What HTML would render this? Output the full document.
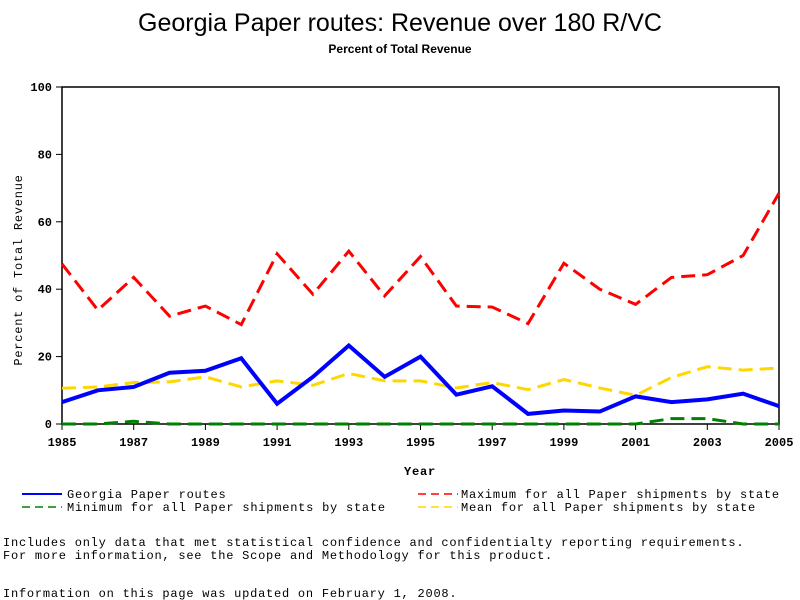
<!DOCTYPE html>
<html><head><meta charset="utf-8"><style>
body{margin:0;background:#fff;width:800px;height:600px;overflow:hidden}
svg{display:block}
text{font-family:"Liberation Mono",monospace;font-size:12px;fill:#000}
.w{letter-spacing:0.77px}
</style></head><body>
<svg id="chart" width="800" height="600">
<text x="400" y="31" text-anchor="middle" style="font-family:'Liberation Sans',sans-serif;font-size:25px">Georgia Paper routes: Revenue over 180 R/VC</text>
<text x="400" y="53" text-anchor="middle" style="font-family:'Liberation Sans',sans-serif;font-size:12px;font-weight:bold">Percent of Total Revenue</text>
<rect x="62" y="87" width="717" height="337" fill="none" stroke="#000" stroke-width="1.5"/>
<g id="axes"></g>
<g id="series"></g>
<text class="w" x="420" y="475" text-anchor="middle" font-weight="bold">Year</text>
<text class="w" transform="translate(22,270) rotate(-90)" text-anchor="middle">Percent of Total Revenue</text>
<g>
<line x1="22" y1="494" x2="62" y2="494" stroke="#00f" stroke-width="2"/>
<text class="w" x="67" y="498">Georgia Paper routes</text>
<line x1="418" y1="494" x2="458" y2="494" stroke="#f00" stroke-dasharray="8,5" stroke-width="1.5"/>
<text class="w" x="461" y="498">Maximum for all Paper shipments by state</text>
<line x1="22" y1="507" x2="62" y2="507" stroke="#008000" stroke-dasharray="8,5" stroke-width="1.5"/>
<text class="w" x="67" y="511">Minimum for all Paper shipments by state</text>
<line x1="418" y1="507" x2="458" y2="507" stroke="#ffd700" stroke-dasharray="8,5" stroke-width="1.5"/>
<text class="w" x="461" y="511">Mean for all Paper shipments by state</text>
</g>
<text class="w" x="3" y="546">Includes only data that met statistical confidence and confidentialty reporting requirements.</text>
<text class="w" x="3" y="559">For more information, see the Scope and Methodology for this product.</text>
<text class="w" x="3" y="597">Information on this page was updated on February 1, 2008.</text>
</svg>
<script>
const years=[1985,1986,1987,1988,1989,1990,1991,1992,1993,1994,1995,1996,1997,1998,1999,2000,2001,2002,2003,2004,2005];
const georgia=[6.5,10,11,15.2,15.8,19.5,6,14,23.3,14,20,8.7,11.2,3,4,3.7,8.2,6.5,7.3,9,5.3];
const maximum=[47.5,33.8,43.5,32,35,29.5,50.5,38.5,51.3,38,49.7,35,34.7,29.8,47.7,40,35.5,43.5,44.3,50,68.5];
const mean=[10.6,11,12.3,12.5,14,11,12.8,11.5,15,12.8,12.8,10.7,12.3,10.2,13.2,10.7,8.5,13.8,17,16,16.6];
const minimum=[0,0,0.8,0,0,0,0,0,0,0,0,0,0,0,0,0,0,1.6,1.6,0,0];
const yTicks=[0,20,40,60,80,100];
const xTicks=[1985,1987,1989,1991,1993,1995,1997,1999,2001,2003,2005];
const NS="http://www.w3.org/2000/svg";
const X=v=>62+(v-1985)*(717/20);
const Y=v=>424-v*3.37;
const axes=document.getElementById('axes');
yTicks.forEach(t=>{
  const l=document.createElementNS(NS,'line');
  l.setAttribute('x1',56);l.setAttribute('x2',62);l.setAttribute('y1',Y(t));l.setAttribute('y2',Y(t));l.setAttribute('stroke','#000');
  
  
  axes.appendChild(l);
  const tx=document.createElementNS(NS,'text');
  tx.setAttribute('x',52);tx.setAttribute('y',Y(t)+4);tx.setAttribute('text-anchor','end');tx.setAttribute('font-weight','bold');tx.textContent=t;
  
  
  axes.appendChild(tx);
});
xTicks.forEach(t=>{
  const l=document.createElementNS(NS,'line');
  l.setAttribute('x1',X(t));l.setAttribute('x2',X(t));l.setAttribute('y1',424);l.setAttribute('y2',430);l.setAttribute('stroke','#000');
  
  
  axes.appendChild(l);
  const tx=document.createElementNS(NS,'text');
  tx.setAttribute('x',X(t));tx.setAttribute('y',446);tx.setAttribute('text-anchor','middle');tx.setAttribute('font-weight','bold');tx.textContent=t;
  
  
  axes.appendChild(tx);
});
const g=document.getElementById('series');
function line(data,color,dash,w,name){
  const p=document.createElementNS(NS,'polyline');
  p.setAttribute('points',data.map((v,i)=>X(years[i])+','+Y(v)).join(' '));
  p.setAttribute('fill','none');p.setAttribute('stroke',color);p.setAttribute('stroke-width',w);
  if(dash)p.setAttribute('stroke-dasharray',dash);
  
  
  g.appendChild(p);
}
line(minimum,'#008000','14,7',3,'min-line');
line(mean,'#ffd700','14,7',3,'mean-line');
line(maximum,'#f00','14,7',3,'max-line');
line(georgia,'#00f',null,4,'georgia-line');
</script>
</body></html>
